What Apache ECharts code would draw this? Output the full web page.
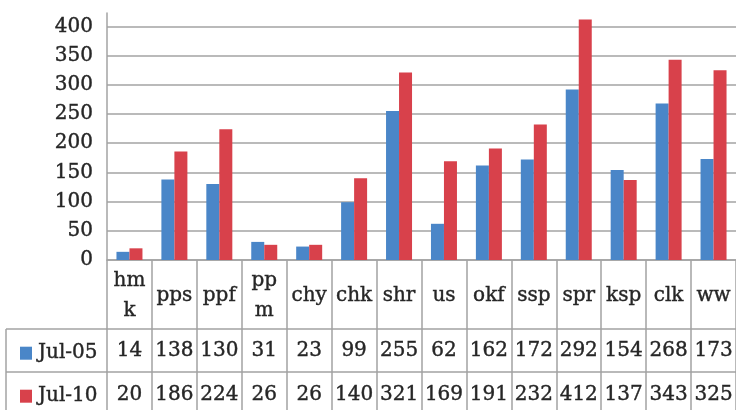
<!DOCTYPE html>
<html>
<head>
<meta charset="utf-8">
<script src="https://cdn.jsdelivr.net/npm/echarts@6/dist/echarts.min.js"></script>
<style>
  html, body { margin: 0; padding: 0; background: #fff; }
  #chart { width: 736px; height: 410px; }
</style>
</head>
<body>
<div id="chart"></div>
<script>
// Categories (wrapped names keep their two-line form)
const categories = ['hm\nk', 'pps', 'ppf', 'pp\nm', 'chy', 'chk', 'shr', 'us', 'okf', 'ssp', 'spr', 'ksp', 'clk', 'ww'];
const seriesNames = ['Jul-05', 'Jul-10'];
const jul05 = [14, 138, 130, 31, 23, 99, 255, 62, 162, 172, 292, 154, 268, 173];
const jul10 = [20, 186, 224, 26, 26, 140, 321, 169, 191, 232, 412, 137, 343, 325];
const yTicks = [0, 50, 100, 150, 200, 250, 300, 350, 400];

const FONT = '"DejaVu Serif", "Liberation Serif", serif';
const TEXT = '#262626';
const LINE = '#a3a3a3';
const BLUE = '#4a86c8';
const RED = '#d8414b';

const gridLeft = 107, gridTop = 13, gridBottom = 150;
const rowLine1 = 69, rowLine2 = 112;   // table row offsets below the x axis

const chart = echarts.init(document.getElementById('chart'), null, { renderer: 'canvas' });

// slightly heavier strokes for the serif labels
const labelStyle = {
  fontFamily: FONT, fontSize: 20, color: TEXT,
  textBorderColor: TEXT, textBorderWidth: 0.4
};

const option = {
  animation: false,
  grid: { left: gridLeft, right: -2, top: gridTop, bottom: gridBottom, containLabel: false },
  legend: [
    {
      data: [seriesNames[0]], left: 15, top: 338, orient: 'vertical',
      icon: 'rect', itemWidth: 12, itemHeight: 13, itemGap: 0,
      textStyle: Object.assign({ padding: [0, 0, 0, 1] }, labelStyle)
    },
    {
      data: [seriesNames[1]], left: 15, top: 381, orient: 'vertical',
      icon: 'rect', itemWidth: 12, itemHeight: 13, itemGap: 0,
      textStyle: Object.assign({ padding: [0, 0, 0, 1] }, labelStyle)
    }
  ],
  xAxis: [
    {
      type: 'category', data: categories, position: 'bottom',
      axisLine: { show: true, lineStyle: { color: LINE, width: 1.5 } },
      axisTick: { show: true, length: 160, lineStyle: { color: LINE, width: 1.5 } },
      axisLabel: Object.assign({ interval: 0, margin: 36, verticalAlign: 'middle', lineHeight: 30 }, labelStyle)
    },
    {
      type: 'category', data: jul05.map(String), position: 'bottom', offset: rowLine1,
      axisLine: { show: true, lineStyle: { color: LINE, width: 1.5 } },
      axisTick: { show: false },
      axisLabel: Object.assign({ interval: 0, margin: 22, verticalAlign: 'middle' }, labelStyle)
    },
    {
      type: 'category', data: jul10.map(String), position: 'bottom', offset: rowLine2,
      axisLine: { show: true, lineStyle: { color: LINE, width: 1.5 } },
      axisTick: { show: false },
      axisLabel: Object.assign({ interval: 0, margin: 23, verticalAlign: 'middle' }, labelStyle)
    }
  ],
  yAxis: {
    type: 'value', min: 0, max: 423, interval: 50,
    axisLine: { show: true, lineStyle: { color: LINE, width: 1.5 } },
    axisTick: { show: false },
    splitLine: { show: true, showMaxLine: false, lineStyle: { color: LINE, width: 1.5 } },
    axisLabel: Object.assign({
      margin: 14, showMaxLabel: false,
      formatter: v => (yTicks.indexOf(v) >= 0 ? String(v) : '')
    }, labelStyle)
  },
  series: [
    {
      name: seriesNames[0], type: 'bar', data: jul05, xAxisIndex: 0,
      barWidth: 13, barGap: '0%', itemStyle: { color: BLUE }
    },
    {
      name: seriesNames[1], type: 'bar', data: jul10, xAxisIndex: 0,
      barWidth: 13, barGap: '0%', itemStyle: { color: RED }
    }
  ]
};

chart.setOption(option);

// Table frame around the legend column, left of the plot area
const yBase = chart.convertToPixel({ yAxisIndex: 0 }, 0);
const leftEdge = 6;
const frameStyle = { stroke: LINE, lineWidth: 1.5 };
chart.setOption({
  graphic: [
    { type: 'line', shape: { x1: leftEdge, y1: yBase + rowLine1, x2: gridLeft, y2: yBase + rowLine1 }, style: frameStyle, silent: true },
    { type: 'line', shape: { x1: leftEdge, y1: yBase + rowLine2, x2: gridLeft, y2: yBase + rowLine2 }, style: frameStyle, silent: true },
    { type: 'line', shape: { x1: leftEdge, y1: yBase + rowLine1, x2: leftEdge, y2: 420 }, style: frameStyle, silent: true }
  ]
});
</script>
</body>
</html>
